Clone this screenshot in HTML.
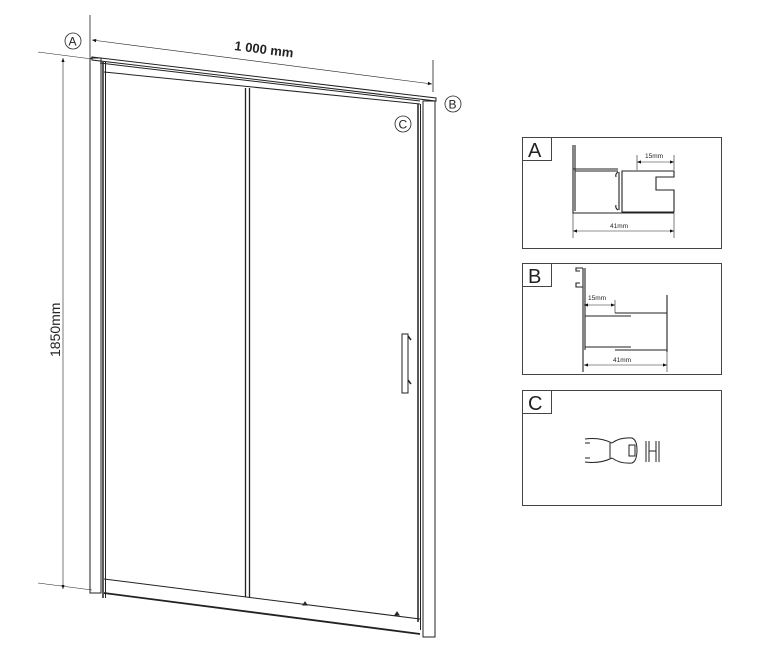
<!DOCTYPE html>
<html><head><style>body{margin:0;background:#fff}svg{display:block}</style></head><body>
<svg width="759" height="668" viewBox="0 0 759 668" xmlns="http://www.w3.org/2000/svg" font-family="Liberation Sans, sans-serif">
<defs><marker id="ar" viewBox="0 0 10 10" refX="10" refY="5" markerWidth="7" markerHeight="7" orient="auto-start-reverse"><path d="M0,1 L10,5 L0,9z" fill="#111"/></marker></defs>
<g stroke="#222" fill="none">
<line x1="90" y1="15" x2="90" y2="57" stroke-width="0.8"/>
<line x1="433" y1="60" x2="433" y2="92" stroke-width="0.8"/>
<line x1="92" y1="40" x2="432" y2="84" stroke-width="0.6" marker-start="url(#ar)" marker-end="url(#ar)"/>
<line x1="38" y1="52" x2="92" y2="59" stroke-width="0.6"/>
<line x1="38" y1="583" x2="92" y2="590" stroke-width="0.6"/>
<line x1="63" y1="58" x2="63" y2="589" stroke-width="0.6" marker-start="url(#ar)" marker-end="url(#ar)"/>
<rect x="90" y="58" width="11" height="535" stroke-width="1"/>
<line x1="103" y1="62" x2="103" y2="598" stroke-width="1.5"/>
<line x1="105.5" y1="62" x2="105.5" y2="598" stroke-width="1"/>
<path d="M92,57 L436,98 L436,101 L92,60z" stroke-width="1"/>
<line x1="100" y1="63" x2="420" y2="101" stroke-width="1"/>
<line x1="104" y1="72" x2="420" y2="104" stroke-width="1"/>
<rect x="423" y="101" width="12" height="536" stroke-width="1"/>
<line x1="418" y1="104" x2="418" y2="622" stroke-width="1.5"/>
<line x1="420.5" y1="104" x2="420.5" y2="630" stroke-width="1"/>
<line x1="245.5" y1="88" x2="245.5" y2="597" stroke-width="1.3"/>
<line x1="249.5" y1="88" x2="249.5" y2="597" stroke-width="1.3"/>
<line x1="104" y1="579" x2="420" y2="619" stroke-width="1"/>
<line x1="104" y1="593" x2="420" y2="634" stroke-width="1.8"/>
<path d="M303,605 l2,-3 l2,3z M395,615 l2,-3 l2,3z" fill="#333"/>
<rect x="402" y="334" width="6" height="59" stroke-width="1"/>
<line x1="408" y1="336" x2="411" y2="340" stroke-width="1.5"/>
<line x1="408" y1="380" x2="411" y2="384" stroke-width="1.5"/>
<circle cx="73" cy="41" r="8" stroke-width="0.8"/>
<circle cx="453" cy="104" r="8" stroke-width="0.8"/>
<circle cx="403" cy="124" r="8" stroke-width="0.8"/>
<rect x="522.5" y="137.5" width="199" height="111" stroke="#444"/>
<rect x="522.5" y="137.5" width="29" height="23" stroke="#444"/>
<rect x="522.5" y="263.5" width="199" height="111" stroke="#444"/>
<rect x="522.5" y="263.5" width="29" height="23" stroke="#444"/>
<rect x="522.5" y="390.5" width="199" height="115" stroke="#444"/>
<rect x="522.5" y="390.5" width="29" height="23" stroke="#444"/>
<g stroke-width="1.1">
<path d="M573,145 V213 H674 M575,145 V211"/>
<path d="M573,169 H618 M575,171 H618"/>
<path d="M622,171 H674 V177 H656 V190 H674 V212 H622z"/>
<path d="M618,172 q-3,2 -2,5 M618,210 q-3,-2 -2,-5 M619,172 V210"/>
<line x1="637" y1="155" x2="637" y2="170" stroke-width="0.6"/>
<line x1="674" y1="155" x2="674" y2="170" stroke-width="0.6"/>
<line x1="573" y1="213" x2="573" y2="238" stroke-width="0.6"/>
<line x1="674" y1="213" x2="674" y2="238" stroke-width="0.6"/>
</g>
<line x1="637" y1="162" x2="674" y2="162" stroke-width="0.6" marker-start="url(#ar)" marker-end="url(#ar)"/>
<line x1="573" y1="231" x2="674" y2="231" stroke-width="0.6" marker-start="url(#ar)" marker-end="url(#ar)"/>
<g stroke-width="1.1">
<path d="M583,268 V372 M585,268 V350 M583,268 H576 V271 H580 M583,287 H576 V283 H580"/>
<path d="M615,313 H667 M585,316 H631 M585,347 H631 M615,350 H667 M667,295 V352"/>
<line x1="615" y1="300" x2="615" y2="313" stroke-width="0.6"/>
<line x1="667" y1="350" x2="667" y2="372" stroke-width="0.6"/>
</g>
<line x1="584" y1="305" x2="615" y2="305" stroke-width="0.6" marker-start="url(#ar)" marker-end="url(#ar)"/>
<line x1="584" y1="365" x2="667" y2="365" stroke-width="0.6" marker-start="url(#ar)" marker-end="url(#ar)"/>
<g stroke-width="1">
<path d="M585,439 Q600,437 612,443 M585,462 Q600,464 612,458 M585,443 H590 M585,458 H590 M610,443 V458"/>
<path d="M612,443 Q620,437 632,438 Q637,440 637,450 Q637,461 632,463 Q620,464 612,458"/>
<rect x="629" y="445" width="6" height="11"/>
<path d="M646,441 V462 M649,441 V462 M656,441 V462 M659,441 V462 M649,451 H656"/>
</g>
</g>
<g fill="#222">
<text x="0" y="0" font-size="13" font-weight="bold" transform="translate(234,50) rotate(7.3)">1 000 mm</text>
<text x="0" y="0" font-size="14" transform="translate(60,357) rotate(-90)">1850mm</text>
<text x="68.5" y="45.5" font-size="12">A</text>
<text x="448.5" y="108.5" font-size="12">B</text>
<text x="398.5" y="128.5" font-size="12">C</text>
<text x="528" y="157" font-size="20">A</text>
<text x="528" y="283" font-size="20">B</text>
<text x="528" y="410" font-size="20">C</text>
<text x="645" y="158" font-size="6.5">15mm</text>
<text x="610" y="228" font-size="6.5">41mm</text>
<text x="588" y="300" font-size="6.5">15mm</text>
<text x="613" y="362" font-size="6.5">41mm</text>
</g>
</svg>
</body></html>
